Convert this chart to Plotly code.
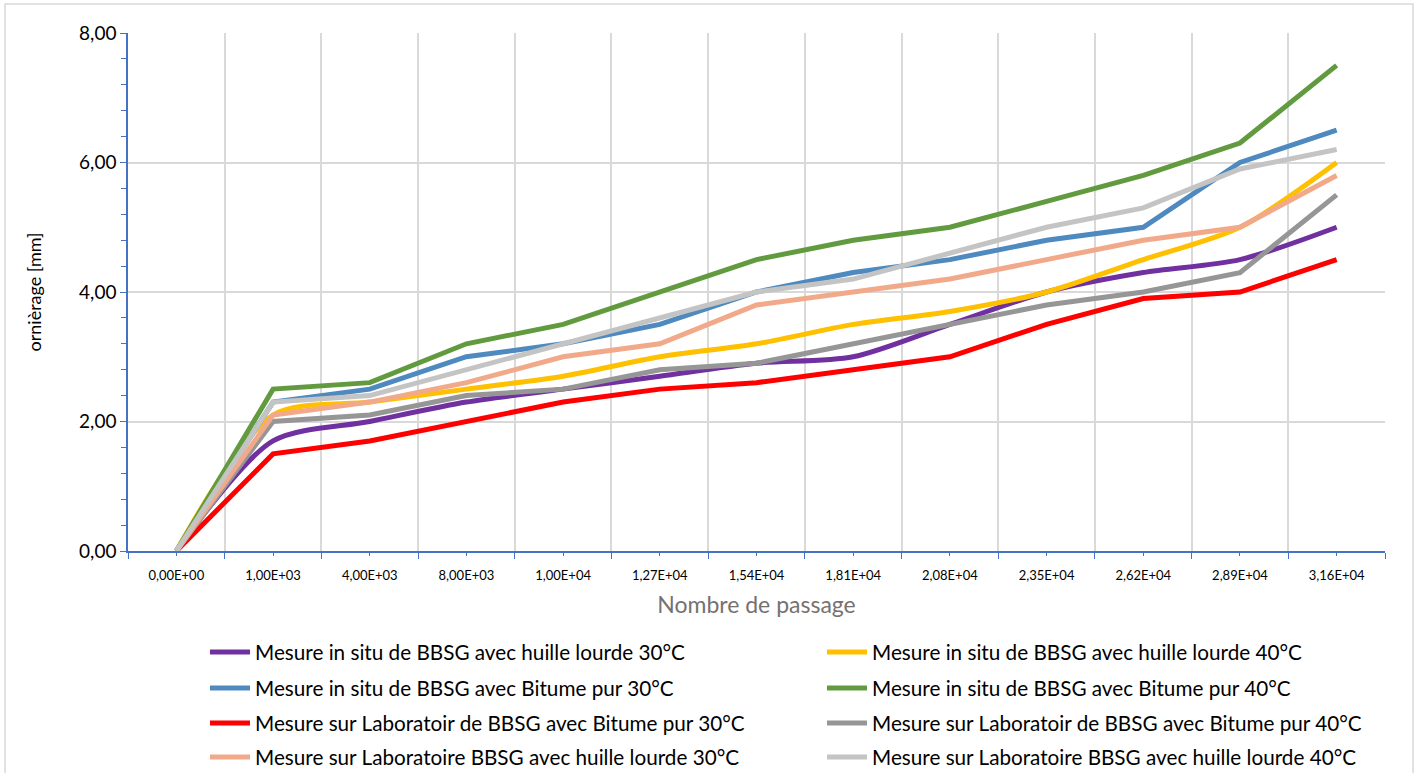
import plotly.graph_objects as go

categories = ["0,00E+00", "1,00E+03", "4,00E+03", "8,00E+03", "1,00E+04", "1,27E+04",
              "1,54E+04", "1,81E+04", "2,08E+04", "2,35E+04", "2,62E+04", "2,89E+04", "3,16E+04"]

insitu_huile_30 = [0, 1.7, 2.0, 2.3, 2.5, 2.7, 2.9, 3.0, 3.5, 4.0, 4.3, 4.5, 5.0]
insitu_huile_40 = [0, 2.1, 2.3, 2.5, 2.7, 3.0, 3.2, 3.5, 3.7, 4.0, 4.5, 5.0, 6.0]
insitu_bitume_30 = [0, 2.3, 2.5, 3.0, 3.2, 3.5, 4.0, 4.3, 4.5, 4.8, 5.0, 6.0, 6.5]
insitu_bitume_40 = [0, 2.5, 2.6, 3.2, 3.5, 4.0, 4.5, 4.8, 5.0, 5.4, 5.8, 6.3, 7.5]
labo_bitume_30 = [0, 1.5, 1.7, 2.0, 2.3, 2.5, 2.6, 2.8, 3.0, 3.5, 3.9, 4.0, 4.5]
labo_bitume_40 = [0, 2.0, 2.1, 2.4, 2.5, 2.8, 2.9, 3.2, 3.5, 3.8, 4.0, 4.3, 5.5]
labo_huile_30 = [0, 2.1, 2.3, 2.6, 3.0, 3.2, 3.8, 4.0, 4.2, 4.5, 4.8, 5.0, 5.8]
labo_huile_40 = [0, 2.3, 2.4, 2.8, 3.2, 3.6, 4.0, 4.2, 4.6, 5.0, 5.3, 5.9, 6.2]

series_names = [
    "Mesure in situ de BBSG avec huille lourde 30°C",
    "Mesure in situ de BBSG avec huille lourde 40°C",
    "Mesure in situ de BBSG avec Bitume pur 30°C",
    "Mesure in situ de BBSG avec Bitume pur 40°C",
    "Mesure sur Laboratoir de BBSG avec Bitume pur 30°C",
    "Mesure sur Laboratoir de BBSG avec Bitume pur 40°C",
    "Mesure sur Laboratoire BBSG avec huille lourde 30°C",
    "Mesure sur Laboratoire BBSG avec huille lourde 40°C",
]
series_values = [insitu_huile_30, insitu_huile_40, insitu_bitume_30, insitu_bitume_40,
                 labo_bitume_30, labo_bitume_40, labo_huile_30, labo_huile_40]
series_colors = ["#7030A0", "#FFC000", "#4E8AC0", "#629B3F",
                 "#FF0000", "#969696", "#F1A98A", "#C4C4C4"]
series_shapes = ["spline", "spline", "linear", "linear", "linear", "linear", "linear", "linear"]

FONT = "Lato, 'Open Sans', sans-serif"
AXIS_BLUE = "#4472C4"
GRID = "#D9D9D9"

# plot-area geometry (pixels)
L, R, T, B = 128, 34, 33, 222
W, H = 1419, 773
PW, PH = W - L - R, H - T - B

def px_to_paper_x(px):
    return (px - L) / PW

def px_to_paper_y(py):
    return (H - B - py) / PH

fig = go.Figure()
legend_layouts = {}
col_x = [205, 822]
row_y = [652, 688, 723, 757]
for i, (name, vals, color, shape) in enumerate(zip(series_names, series_values, series_colors, series_shapes)):
    key = "legend" if i == 0 else f"legend{i + 1}"
    fig.add_trace(go.Scatter(
        x=categories, y=vals, name=name, mode="lines",
        line=dict(color=color, width=5, shape=shape, smoothing=0.8),
        legend=key,
    ))
    legend_layouts[key] = dict(
        xref="container", yref="container",
        x=col_x[i % 2] / W, xanchor="left",
        y=1 - row_y[i // 2] / H, yanchor="middle",
        orientation="h", bgcolor="rgba(0,0,0,0)",
        font=dict(size=20.7, family=FONT, color="black"),
        itemwidth=40,
    )

fig.update_layout(
    width=W, height=H,
    margin=dict(l=L, r=R, t=T, b=B, autoexpand=False),
    paper_bgcolor="white", plot_bgcolor="white",
    separators=", ",
    font=dict(family=FONT, color="black"),
    showlegend=True,
    xaxis=dict(
        type="category", categoryorder="array", categoryarray=categories,
        range=[-0.5, 12.5],
        tickson="boundaries", ticks="outside", ticklen=6, tickcolor=AXIS_BLUE, tickwidth=1,
        showgrid=True, gridcolor=GRID, gridwidth=1.5,
        showline=True, linecolor=AXIS_BLUE, linewidth=1.5,
        tickfont=dict(size=13, family=FONT, color="black"),
        ticklabelstandoff=12,
        title=dict(text="Nombre de passage", font=dict(size=23, family=FONT, color="#767171"), standoff=15),
        zeroline=False,
    ),
    xaxis2=dict(
        type="category", categoryorder="array", categoryarray=categories,
        range=[-0.5, 12.5], overlaying="x", side="bottom", anchor="y",
        ticks="outside", ticklen=4, tickcolor=AXIS_BLUE, tickwidth=1,
        showticklabels=False, showgrid=False, showline=False, zeroline=False,
        tickvals=categories,
    ),
    yaxis=dict(
        range=[0, 8], dtick=2, tickformat=".2f",
        ticks="outside", ticklen=6, tickcolor=AXIS_BLUE, tickwidth=1,
        minor=dict(dtick=0.4, ticks="outside", ticklen=5, tickcolor=AXIS_BLUE, showgrid=False),
        showgrid=True, gridcolor=GRID, gridwidth=1.5,
        showline=True, linecolor=AXIS_BLUE, linewidth=1.5,
        tickfont=dict(size=19, family=FONT, color="black"),
        title=dict(text="ornièrage [mm]", font=dict(size=18, family=FONT, color="black"), standoff=33),
        zeroline=False,
    ),
    shapes=[dict(type="rect", xref="paper", yref="paper",
                 x0=px_to_paper_x(5), x1=px_to_paper_x(1413),
                 y0=px_to_paper_y(820), y1=px_to_paper_y(4),
                 line=dict(color=GRID, width=1.5), layer="below")],
    **legend_layouts,
)

# empty trace to show short centre ticks on the overlaid category axis
fig.add_trace(go.Scatter(x=categories, y=[None] * len(categories), xaxis="x2", yaxis="y",
                         showlegend=False, hoverinfo="skip", mode="lines"))

fig.write_html("out.html", config={"displayModeBar": False},
               post_script="document.body.style.margin='0';")
